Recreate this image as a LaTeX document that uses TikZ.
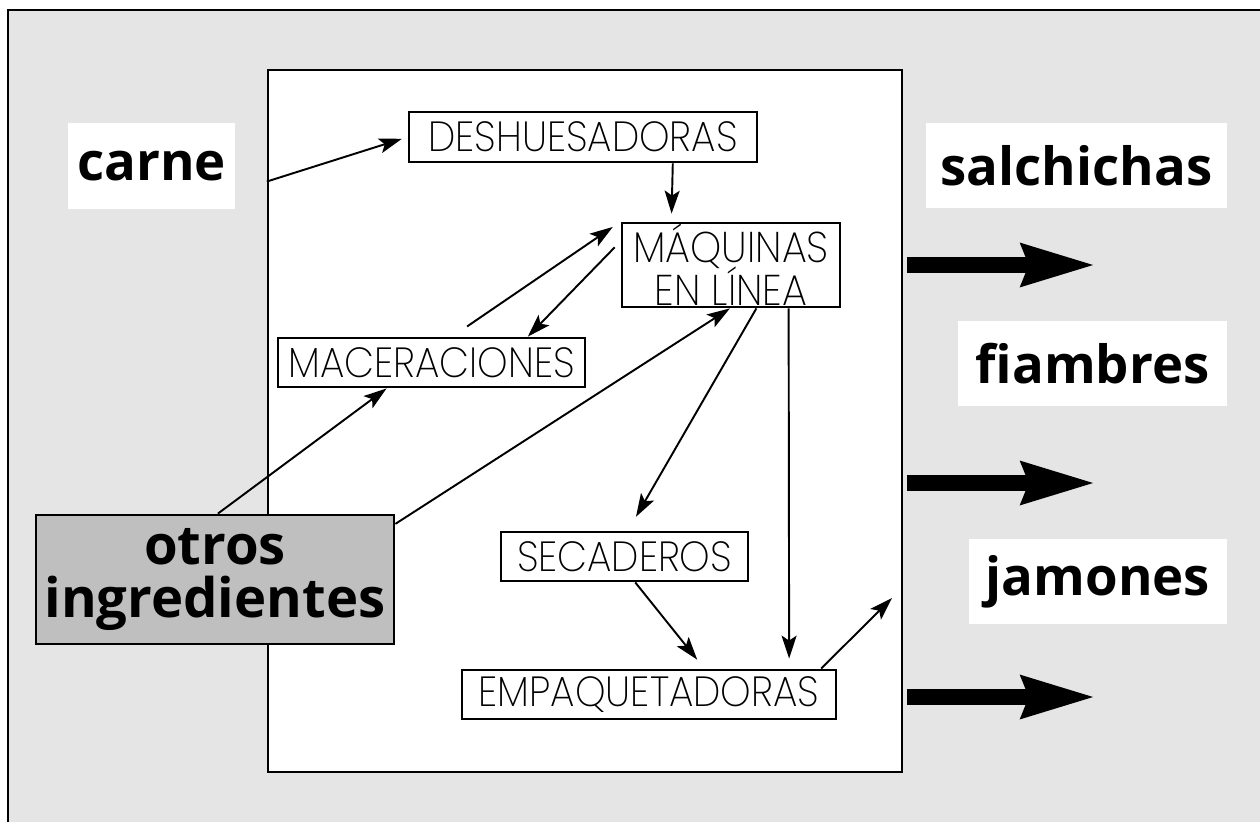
\documentclass[tikz,border=0pt]{standalone}
\usepackage{fontspec}
\setmainfont{Open Sans}
\IfFontExistsTF{Poppins ExtraLight}
  {\newfontfamily\lightfont{Poppins ExtraLight}[FakeStretch=0.92]}
  {\newfontfamily\lightfont{Poppins Light}[FakeStretch=0.92]}
\newcommand\apretado{\lineskiplimit-50pt\relax}
\usetikzlibrary{arrows.meta,calc}
\definecolor{fondo}{gray}{0.9}
\definecolor{gris}{gray}{0.75}

\begin{document}
\begin{tikzpicture}[x=0.02cm,y=-0.02cm,
  caja/.style={draw,line width=1.6pt,fill=white,inner sep=0pt,align=center,
    font=\lightfont\fontsize{24}{17.5}\selectfont},
  etiqueta/.style={fill=white,inner sep=0pt,font=\bfseries\fontsize{30}{32}\selectfont},
  flecha/.style={line width=1.1pt,-{Stealth[length=0.46cm,width=0.3cm,inset=0.1cm]}},
  gruesa/.style={line width=0.32cm,-{Stealth[length=1.46cm,width=0.8cm,inset=0.12cm]}}]
\useasboundingbox (0,0) rectangle (1260,821);
\clip (0,0) rectangle (1260,821);

%%背景
\fill [white] (0,0) rectangle (1260,821);
\draw [fill=fondo, line width=1.6pt] (8,10) rectangle (1280,840);
   %灰色の外枠(右と下ははみ出す)
\node [draw, fill=white, line width=1.4pt, minimum width=12.68cm, minimum height=14.04cm] (planta) at (585,421) {};
   %工場を表す白い長方形

%%工程の箱
\node [caja, minimum width=6.96cm, minimum height=1cm] (desh) at (583,137) {DESHUESADORAS};
\node [caja, minimum width=4.36cm, minimum height=1.68cm,
  font=\lightfont\fontsize{24.5}{24.4}\selectfont\apretado] (maq) at (731,265) {MÁQUINAS\\EN LÍNEA};
   %2行の箱
\node [caja, minimum width=6.14cm, minimum height=0.98cm] (mac) at (431.5,362.5) {MACERACIONES};
\node [caja, minimum width=4.94cm, minimum height=0.98cm] (sec) at (624.5,556.5) {SECADEROS};
\node [caja, minimum width=7.48cm, minimum height=0.98cm] (emp) at (649,694.5) {EMPAQUETADORAS};

%%入口と出口のラベル
\node [etiqueta, minimum width=3.34cm, minimum height=1.72cm] (carne) at (151.5,166) {carne};
\node [etiqueta, minimum width=6.02cm, minimum height=1.7cm] (salch) at (1076.5,165.5) {salchichas};
\node [etiqueta, minimum width=5.38cm, minimum height=1.7cm] (fiamb) at (1092.5,363.5) {fiambres};
\node [etiqueta, minimum width=5.16cm, minimum height=1.7cm] (jamon) at (1098,581.5) {jamones};
\node [draw, fill=gris, line width=1.6pt, inner sep=0pt, minimum width=7.16cm, minimum height=2.58cm,
  align=center, font=\bfseries\fontsize{31}{30.6}\selectfont] (otros) at (215,579.5) {otros\\ingredientes};

%%細い矢印
\coordinate (salida) at (892,598);
\draw [flecha, shorten >=0.12cm] ($(planta.north west)!0.16!(planta.south west)$) -- (desh.west);
\draw [flecha, shorten >=0.16cm] ($(desh.south west)!0.756!(desh.south east)$) -- ($(maq.north west)!0.23!(maq.north east)$);
\draw [flecha, shorten <=0.36cm, shorten >=0.19cm] ($(mac.north west)!0.567!(mac.north east)$) -- (maq.north west);
\draw [flecha, shorten <=0.17cm] ($(maq.north west)!0.226!(maq.south west)$) -- ($(mac.north west)!0.811!(mac.north east)$);
\draw [flecha] ($(otros.north west)!0.508!(otros.north east)$) -- ($(mac.south west)!0.355!(mac.south east)$);
\draw [flecha] ($(otros.north east)!0.078!(otros.south east)$) -- ($(maq.south west)!0.495!(maq.south east)$);
\draw [flecha, shorten >=0.32cm] ($(maq.south west)!0.615!(maq.south east)$) -- ($(sec.north west)!0.514!(sec.north east)$);
\draw [flecha, shorten >=0.2cm] ($(maq.south west)!0.761!(maq.south east)$) -- ($(emp.north west)!0.872!(emp.north east)$);
\draw [flecha, shorten >=0.23cm] ($(sec.south west)!0.543!(sec.south east)$) -- ($(emp.north west)!0.647!(emp.north east)$);
\draw [flecha] ($(emp.north west)!0.957!(emp.north east)$) -- (salida);

%%太い矢印
\foreach \y in {265,483,697}
  \draw [gruesa] (907,\y) -- (1096,\y);
\end{tikzpicture}
\end{document}
